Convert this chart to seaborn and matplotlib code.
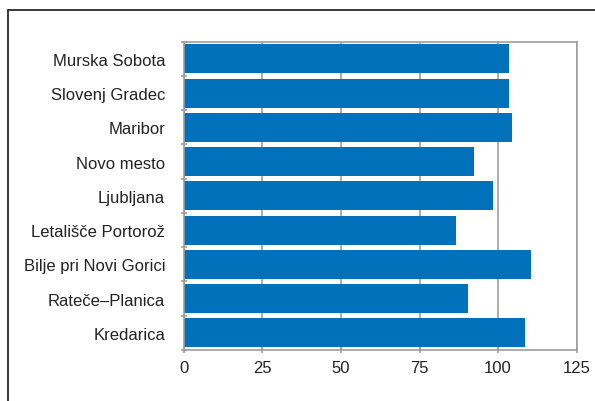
import matplotlib
matplotlib.use("Agg")
import matplotlib.pyplot as plt
from matplotlib.lines import Line2D
from matplotlib.ticker import FixedLocator
import seaborn as sns
import pandas as pd

stations = ["Murska Sobota", "Slovenj Gradec", "Maribor", "Novo mesto", "Ljubljana",
            "Letališče Portorož", "Bilje pri Novi Gorici", "Rateče–Planica", "Kredarica"]
values = [103.5, 103.5, 104.4, 92.3, 98.4, 86.6, 110.5, 90.4, 108.6]
x_ticks = [0, 25, 50, 75, 100, 125]

df = pd.DataFrame({"station": stations, "value": values})

sns.set_style("white")
plt.rcParams["font.family"] = ["Liberation Sans", "DejaVu Sans"]

fig = plt.figure(figsize=(5.95, 4.02), dpi=100)
ax = fig.add_axes([0.3092, 0.1269, 0.969 - 0.3092, 0.8938 - 0.1269])

sns.barplot(data=df, x="value", y="station", order=stations, color="#0071BA",
            saturation=1, width=0.85, linewidth=0, ax=ax)

grid_col = "#9c9ea1"
ax.set_xlim(0, 125)
ax.set_ylim(len(stations) - 0.5, -0.5)
ax.set_xticks(x_ticks)
ax.set_xticklabels([str(t) for t in x_ticks])
ax.grid(axis="x", color=grid_col, linewidth=1.2)
ax.grid(axis="y", visible=False)
ax.set_axisbelow(True)
ax.set_xlabel("")
ax.set_ylabel("")

for s in ax.spines.values():
    s.set_visible(True)
    s.set_color(grid_col)
    s.set_linewidth(1.2)

ax.yaxis.set_minor_locator(FixedLocator([i - 0.5 for i in range(len(stations) + 1)]))
ax.tick_params(axis="y", which="major", length=0, pad=13.5, labelsize=12, labelcolor="#222222")
ax.tick_params(axis="y", which="minor", left=True, length=5, direction="inout",
               color=grid_col, width=1.2)
ax.tick_params(axis="x", which="major", bottom=True, length=5, direction="inout",
               color=grid_col, width=1.2, pad=5, labelsize=12, labelcolor="#222222")

# outer frame of the figure panel (top and left edges)
frame_col = "#2a2a2a"
fig.add_artist(Line2D([8 / 595, 1.0], [1 - 11 / 402, 1 - 11 / 402],
                      transform=fig.transFigure, color=frame_col, linewidth=1.3))
fig.add_artist(Line2D([8 / 595, 8 / 595], [0.0, 1 - 11 / 402],
                      transform=fig.transFigure, color=frame_col, linewidth=1.3))

fig.savefig("out.png", dpi=100)
